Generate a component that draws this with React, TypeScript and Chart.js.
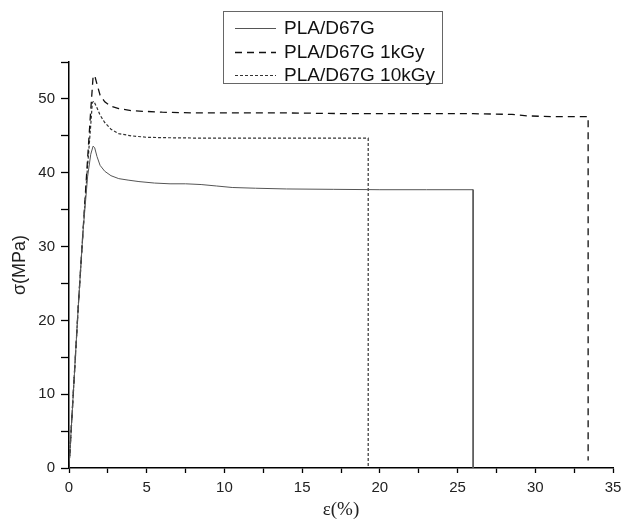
import React, { useEffect, useRef } from "react";
import { Chart, registerables } from "chart.js";

Chart.register(...registerables);

const seriesNames = ["PLA/D67G", "PLA/D67G 1kGy", "PLA/D67G 10kGy"];

const strainA = [0, 0.3, 0.6, 0.9, 1.2, 1.4, 1.55, 1.65, 1.8, 2.0, 2.3, 2.7, 3.2, 3.8, 4.5, 5.5, 6.5, 7.5, 8.5, 9.5, 10.5, 12, 14, 17, 20, 23, 26, 26];
const stressA = [0, 11, 22, 32, 39.5, 42.5, 43.6, 43.4, 42.2, 41.0, 40.2, 39.6, 39.2, 39.0, 38.8, 38.6, 38.5, 38.5, 38.4, 38.2, 38.0, 37.9, 37.8, 37.75, 37.7, 37.7, 37.7, 0];

const strainB = [0, 0.3, 0.6, 0.9, 1.2, 1.4, 1.55, 1.65, 1.8, 2.0, 2.3, 2.7, 3.2, 4, 5, 6, 8, 10, 14, 18, 22, 26, 28.5, 29.5, 31, 33.4, 33.4];
const stressB = [0, 11, 22, 32, 42, 48.5, 53.0, 53.2, 52.0, 50.5, 49.6, 49.0, 48.7, 48.4, 48.3, 48.2, 48.1, 48.1, 48.1, 48.0, 48.0, 48.0, 47.9, 47.7, 47.6, 47.6, 1];

const strainC = [0, 0.3, 0.6, 0.9, 1.2, 1.4, 1.5, 1.6, 1.8, 2.0, 2.3, 2.7, 3.2, 4, 5, 6, 8, 10, 14, 19.25, 19.25];
const stressC = [0, 11, 22, 32, 41, 46.5, 49.5, 49.7, 48.8, 47.8, 46.8, 45.9, 45.3, 45.0, 44.8, 44.75, 44.7, 44.7, 44.7, 44.7, 0];

const xTitle = "ε(%)";
const yTitle = "σ(MPa)";

const styles = [
  { color: "#555", width: 1, dash: [] as number[] },
  { color: "#111", width: 1.3, dash: [7, 5] },
  { color: "#333", width: 1.2, dash: [3, 2] },
];

const toPoints = (xs: number[], ys: number[]) => xs.map((x, i) => ({ x, y: ys[i] }));

const boxLegend = {
  id: "boxLegend",
  afterDraw(chart: any) {
    const ctx = chart.ctx;
    const left = 223, top = 11, w = 219, h = 72;
    ctx.save();
    ctx.strokeStyle = "#666";
    ctx.lineWidth = 1;
    ctx.setLineDash([]);
    ctx.strokeRect(left + 0.5, top + 0.5, w, h);
    ctx.font = "19px 'Liberation Sans', Arial, sans-serif";
    ctx.textBaseline = "middle";
    ctx.fillStyle = "#111";
    chart.data.datasets.forEach((ds: any, i: number) => {
      const yy = top + 17 + i * 23.5;
      ctx.beginPath();
      ctx.strokeStyle = ds.borderColor;
      ctx.lineWidth = ds.borderWidth;
      ctx.setLineDash(ds.borderDash || []);
      ctx.moveTo(left + 12, Math.round(yy) + 0.5);
      ctx.lineTo(left + 53, Math.round(yy) + 0.5);
      ctx.stroke();
      ctx.setLineDash([]);
      ctx.fillText(ds.label, left + 61, yy + 1);
    });
    ctx.restore();
  },
};

export default function App() {
  const ref = useRef<HTMLCanvasElement | null>(null);
  useEffect(() => {
    document.body.style.margin = "0";
    const canvas = ref.current!;
    const sets = [
      toPoints(strainA, stressA),
      toPoints(strainB, stressB),
      toPoints(strainC, stressC),
    ];
    const chart = new Chart(canvas, {
      type: "scatter",
      data: {
        datasets: sets.map((d, i) => ({
          label: seriesNames[i],
          data: d,
          showLine: true,
          borderColor: styles[i].color,
          borderWidth: styles[i].width,
          borderDash: styles[i].dash,
          pointRadius: 0,
          tension: 0,
          fill: false,
        })),
      },
      options: {
        responsive: false,
        animation: false,
        layout: { padding: { top: 62, right: 11, left: 0, bottom: 0 } },
        plugins: { legend: { display: false }, tooltip: { enabled: false } },
        scales: {
          x: {
            type: "linear",
            min: 0,
            max: 35,
            afterFit: (s: any) => { s.height = 53; s.paddingRight = 0; },
            grid: { drawOnChartArea: false, drawTicks: true, tickLength: 5, tickColor: "#000", tickWidth: 1.3 },
            border: { color: "#000", width: 1.5 },
            ticks: {
              stepSize: 2.5,
              autoSkip: false,
              maxRotation: 0,
              padding: 6,
              color: "#222",
              font: { family: "'Liberation Sans', Arial, sans-serif", size: 15 },
              callback: (v: any) => (Number(v) % 5 === 0 ? String(v) : ""),
            },
            title: {
              display: true,
              text: xTitle,
              color: "#222",
              padding: { top: 0, bottom: 0 },
              font: { family: "'Liberation Serif', 'Times New Roman', serif", size: 19 },
            },
          },
          y: {
            type: "linear",
            min: 0,
            max: 55,
            afterFit: (s: any) => { s.width = 69; },
            grid: { drawOnChartArea: false, drawTicks: true, tickLength: 8, tickColor: "#000", tickWidth: 1.3 },
            border: { color: "#000", width: 1.5 },
            ticks: {
              stepSize: 5,
              autoSkip: false,
              padding: 6,
              color: "#222",
              font: { family: "'Liberation Sans', Arial, sans-serif", size: 15 },
              callback: (v: any) => (Number(v) % 10 === 0 ? String(v) : ""),
            },
            title: {
              display: true,
              text: yTitle,
              color: "#222",
              padding: { top: 9, bottom: 0 },
              font: { family: "'Liberation Sans', Arial, sans-serif", size: 18 },
            },
          },
        },
      },
      plugins: [boxLegend],
    });
    return () => chart.destroy();
  }, []);
  return (
    <div style={{ width: 624, height: 521, background: "#fff" }}>
      <canvas ref={ref} width={624} height={521} />
    </div>
  );
}
